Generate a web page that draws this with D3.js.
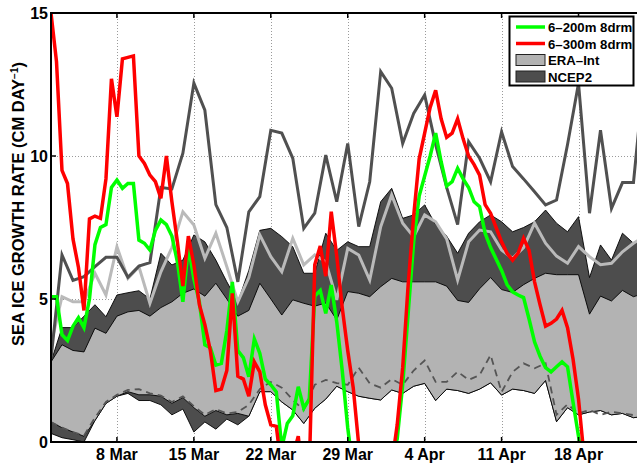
<!DOCTYPE html>
<html><head><meta charset="utf-8">
<script src="https://cdn.jsdelivr.net/npm/d3@7/dist/d3.min.js"></script>
<style>
body{margin:0;background:#fff;}
svg{display:block;font-family:"Liberation Sans",Arial,Helvetica,sans-serif;}
</style>
</head><body>
<svg id="chart" width="637" height="464"></svg>
<script>
// ---- data ----
const tickDays = [8, 15, 22, 29, 36, 43, 50];
const tickLabels = ["8 Mar", "15 Mar", "22 Mar", "29 Mar", "4 Apr", "11 Apr", "18 Apr"];
const yTicks = [0, 5, 10, 15];
const firstDay = 2;          // daily series start
const modelStep = 0.5;       // model series every half day

const ncepHigh = [2.8,4.0,4.0,4.4,4.8,4.38,5.14,5.22,5.29,5.0, 6.6,6.19,6.36,7.24,7.0,6.36,5.6,4.9,6.0,7.4, 7.47,7.18,6.83,5.9,5.9,7.3,6.7,7.0,6.83,6.83, 8.4,8.87,7.82,7.94,8.29,7.6,7.2,6.6,7.3,7.7, 7.94,7.7,7.35,7.5,7.7,8.11,7.65,7.35,7.88,5.75, 6.89,6.36,7.3,6.95,7.2];
const ncepLow = [0.3,0.15,0.08,0.0,0.75,1.35,1.6,1.7,1.45,1.45, 1.3,0.95,1.15,0.35,0.7,0.45,0.8,0.6,0.9,1.76, 1.76,1.4,1.12,0.65,1.18,1.5,1.95,1.76,1.6,1.53, 1.47,1.82,1.7,1.95,2.05,1.45,1.85,1.8,1.7,1.85, 2.07,1.64,1.85,1.8,1.7,2.15,0.71,1.2,0.95,1.05, 1.1,0.95,1.0,0.85,0.9];
const eraHigh = [2.8,3.4,3.2,3.15,3.98,3.8,4.4,4.55,4.6,4.4, 4.7,4.9,5.2,5.35,5.1,5.55,5.0,4.4,4.6,5.55, 5.0,4.44,4.97,4.85,4.75,4.86,4.27,5.26,5.2,5.08, 5.43,5.72,5.6,5.6,5.6,5.6,5.45,4.95,4.88,5.36, 5.75,5.33,5.23,5.5,5.72,5.9,5.85,5.85,5.85,4.47, 5.1,4.93,5.3,5.08,5.2];
const eraLow = [0.7,0.5,0.35,0.2,0.75,1.35,1.6,1.76,1.65,1.65, 1.6,1.35,1.55,1.2,0.9,1.1,0.95,1.0,0.9,1.76, 1.76,1.4,1.12,0.65,1.18,1.5,1.95,1.76,1.6,1.53, 1.47,1.82,1.7,1.95,2.05,1.45,1.85,1.8,1.7,1.85, 2.07,1.64,1.85,1.8,1.7,2.15,0.71,1.2,0.95,1.05, 1.1,0.95,1.0,0.85,0.9];
const eraLine = [3.4,5.08,4.9,4.9,5.9,5.14,6.83,5.72,6.13,4.85, 5.95,6.8,8.05,7.59,6.42,7.3,6.13,4.9,5.75,7.24, 6.48,5.95,7.12,6.19,6.54,6.3,4.97,6.77,6.54,5.66, 7.53,8.64,7.65,7.18,7.94,7.7,7.1,5.66,7.0,7.41, 7.35,6.71,6.42,6.8,7.65,6.95,6.5,6.25,6.83,6.48, 6.2,6.25,6.65,6.95,7.2];
const ncepLine = [2.9,6.54,5.65,5.78,6.13,6.46,6.46,5.76,6.15,6.27, 8.9,8.85,10.1,12.55,11.6,8.3,7.5,5.6,8.05,8.58, 10.9,10.8,9.92,7.47,8.0,10.03,8.4,10.44,7.53,9.1, 12.95,12.37,10.44,11.49,12.13,10.4,8.9,7.6,10.5,9.92, 9.1,10.85,9.63,9.2,8.75,8.29,8.46,10.4,12.54,8.0, 10.9,8.17,9.07,9.07,13];
const dashLine = [0.7,0.5,0.35,0.22,0.85,1.4,1.65,1.82,1.85,1.7, 1.62,1.4,1.6,1.25,0.95,1.15,1.0,1.05,1.3,1.85, 2.1,1.9,1.47,1.12,2.0,2.17,2.06,2.0,2.6,2.05, 1.9,2.2,2.0,2.5,2.85,2.1,2.1,2.46,2.17,2.34, 3.04,1.75,2.45,2.75,2.58,2.75,0.95,1.32,1.0,1.12, 0.95,1.06,1.0,0.94,1.0];

const model200 = [5.08,5.08,3.75,3.55,4.05,4.35,4.0,5.0,6.9,7.5, 7.6,8.9,9.16,8.87,9.04,9.04,7.06,6.95,6.71,7.4, 7.76,7.6,7.2,6.3,4.9,6.83,5.7,4.9,3.4,3.3, 2.69,2.75,3.9,5.6,3.2,2.95,2.28,3.6,3.1,2.2, 2.0,1.75,-0.2,0.65,0.92,1.93,1.18,1.5,5.1,5.3, 4.5,5.49,4.2,2.5,0.5,-1.0,-1.5,-2.0,-2.0,-2.0, -1.5,-1.0,-0.5,0.1,2.0,4.5,7.0,8.6,9.3,10.0, 10.8,9.8,8.95,9.1,9.57,9.2,8.9,8.4,8.23,7.3, 6.8,6.4,6.0,5.5,5.25,5.14,5.05,4.3,3.5,3.0, 2.6,2.45,2.63,2.8,2.63,1.4,0.2,-1.0,-2.0,-2.5, -3,-3,-3,-3,-3,-3,-3,-3];
const model300 = [15.0,13.3,9.5,9.04,7.1,6.1,4.6,7.8,7.9,7.82, 9.2,12.7,11.37,13.4,13.45,13.5,10.0,9.74,9.33,9.1, 8.52,10.0,8.4,7.0,5.45,7.2,6.2,4.8,4.1,3.2, 1.8,1.85,2.5,5.2,2.3,2.2,1.6,2.8,2.45,1.3, 0.6,0.55,-1.0,-1.2,-0.5,0.2,-1.5,-1.0,6.2,6.85, 5.8,8.05,6.5,4.7,3.2,1.9,-0.1,-1.5,-2.0,-2.5, -2.5,-2.0,-0.8,0.6,2.6,5.5,7.9,9.9,10.8,11.7, 12.3,11.3,10.65,10.8,11.3,10.6,10.0,9.7,9.33,8.3, 8.0,7.5,7.0,6.6,6.36,6.6,7.12,6.7,5.6,4.8, 4.05,4.15,4.3,4.6,4.0,2.9,1.5,-0.5,-2.0,-2.5, -3,-3,-3,-3,-3,-3,-3,-3];

const legendLabels = ["6\u2013200m 8drm", "6\u2013300m 8drm", "ERA\u2013Int", "NCEP2"];

(function () {
// ---- layout ----
const W = 637;
const padL = 51, padT = 13, baseY = 442;
const svg = d3.select("#chart");

const x = d3.scaleLinear().domain([2, 56]).range([padL, padL + 54 * 10.99]);
const y = d3.scaleLinear().domain([0, 15]).range([baseY, padT]);

const daily = arr => arr.map((v, i) => ({d: firstDay + i, v}));
const halfDaily = arr => arr.map((v, i) => ({d: firstDay + i * modelStep, v}));
const band = (lo, hi) => lo.map((v, i) => ({d: firstDay + i, lo: v, hi: hi[i]}));

svg.append("defs").append("clipPath").attr("id", "clip")
  .append("rect").attr("x", padL).attr("y", padT).attr("width", W - padL + 20).attr("height", baseY - padT);

// grid
const grid = svg.append("g").attr("stroke", "#9a9a9a").attr("stroke-width", 1).attr("stroke-dasharray", "1,2");
grid.selectAll("line.v").data(tickDays).join("line")
  .attr("x1", d => Math.round(x(d)) + 0.5).attr("x2", d => Math.round(x(d)) + 0.5)
  .attr("y1", padT).attr("y2", baseY);
grid.selectAll("line.h").data([5, 10]).join("line")
  .attr("x1", padL).attr("x2", W).attr("y1", d => Math.round(y(d)) + 0.5).attr("y2", d => Math.round(y(d)) + 0.5);

const plot = svg.append("g").attr("clip-path", "url(#clip)");

const area = d3.area().x(d => x(d.d)).y0(d => y(d.lo)).y1(d => y(d.hi));
const line = d3.line().x(d => x(d.d)).y(d => y(d.v));

plot.append("path").attr("d", area(band(ncepLow, ncepHigh)))
  .attr("fill", "#4d4d4d").attr("stroke", "#000").attr("stroke-width", 0.9);
plot.append("path").attr("d", area(band(eraLow, eraHigh)))
  .attr("fill", "#b3b3b3").attr("stroke", "#000").attr("stroke-width", 0.9);

plot.append("path").attr("d", line(daily(dashLine)))
  .attr("fill", "none").attr("stroke", "#555").attr("stroke-width", 1.8).attr("stroke-dasharray", "7,5");
plot.append("path").attr("d", line(daily(eraLine)))
  .attr("fill", "none").attr("stroke", "#bababa").attr("stroke-width", 3);
plot.append("path").attr("d", line(daily(ncepLine)))
  .attr("fill", "none").attr("stroke", "#505050").attr("stroke-width", 3);
plot.append("path").attr("d", line(halfDaily(model200)))
  .attr("fill", "none").attr("stroke", "#00ff00").attr("stroke-width", 3.5);
plot.append("path").attr("d", line(halfDaily(model300)))
  .attr("fill", "none").attr("stroke", "#ff0000").attr("stroke-width", 3.5);

// axes box
const ax = svg.append("g").attr("stroke", "#000").attr("stroke-width", 2).attr("fill", "none");
ax.append("line").attr("x1", padL).attr("x2", W).attr("y1", padT).attr("y2", padT);
ax.append("line").attr("x1", padL).attr("x2", W).attr("y1", baseY).attr("y2", baseY);
ax.append("line").attr("x1", padL).attr("x2", padL).attr("y1", padT - 1).attr("y2", baseY + 1);
// ticks
const tk = svg.append("g").attr("stroke", "#000").attr("stroke-width", 1.5);
tk.selectAll("line.yt").data(yTicks).join("line")
  .attr("x1", padL).attr("x2", padL + 5).attr("y1", d => y(d)).attr("y2", d => y(d));
tk.selectAll("line.xb").data(tickDays).join("line")
  .attr("x1", d => x(d)).attr("x2", d => x(d)).attr("y1", baseY).attr("y2", baseY - 5);
tk.selectAll("line.xt").data(tickDays).join("line")
  .attr("x1", d => x(d)).attr("x2", d => x(d)).attr("y1", padT).attr("y2", padT + 5);

// tick labels
svg.append("g").selectAll("text").data(yTicks).join("text")
  .attr("x", padL - 3).attr("y", d => y(d)).attr("dy", "0.36em")
  .attr("text-anchor", "end").attr("font-size", 16).attr("font-weight", "bold").text(d => d);
svg.append("g").selectAll("text").data(tickDays).join("text")
  .attr("x", d => x(d)).attr("y", 460)
  .attr("text-anchor", "middle").attr("font-size", 16).attr("font-weight", "bold")
  .text((d, i) => tickLabels[i]);

// y title
const yt = svg.append("text").attr("transform", "translate(23.5,204) rotate(-90)")
  .attr("text-anchor", "middle").attr("font-size", 16.5).attr("font-weight", "bold");
yt.append("tspan").text("SEA ICE GROWTH RATE (CM DAY");
yt.append("tspan").attr("dy", -6).attr("font-size", 10).text("\u22121");
yt.append("tspan").attr("dy", 6).text(")");

// legend
const lg = svg.append("g");
lg.append("rect").attr("x", 509.5).attr("y", 16.5).attr("width", 124).attr("height", 69)
  .attr("fill", "#fff").attr("stroke", "#000").attr("stroke-width", 2);
const rows = [27, 43.5, 60, 76.5];
const lineColors = ["#00ff00", "#ff0000"];
lg.selectAll("line.l").data(lineColors).join("line")
  .attr("x1", 516).attr("x2", 545).attr("y1", (d, i) => rows[i]).attr("y2", (d, i) => rows[i])
  .attr("stroke", d => d).attr("stroke-width", 3.5);
const patchColors = ["#b3b3b3", "#4d4d4d"];
lg.selectAll("rect.p").data(patchColors).join("rect")
  .attr("x", 516).attr("y", (d, i) => rows[i + 2] - 5.5).attr("width", 29).attr("height", 11)
  .attr("fill", d => d).attr("stroke", "#222").attr("stroke-width", 1);
lg.selectAll("text").data(legendLabels).join("text")
  .attr("x", 548).attr("y", (d, i) => rows[i] + 5)
  .attr("font-size", 13.2).attr("font-weight", "bold").text(d => d);
})();
</script>
</body></html>
